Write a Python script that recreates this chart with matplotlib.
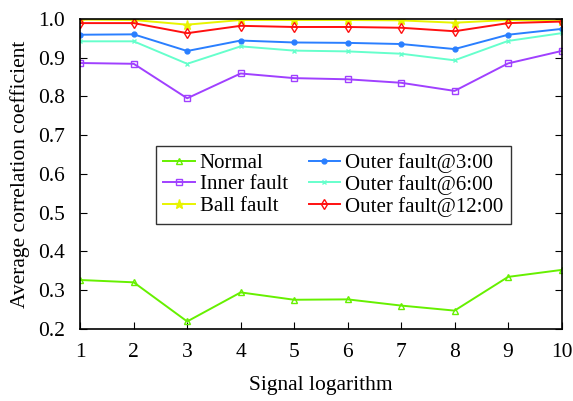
import matplotlib
matplotlib.use('Agg')
import matplotlib.pyplot as plt

signal_log = [1, 2, 3, 4, 5, 6, 7, 8, 9, 10]

normal = [0.326, 0.320, 0.219, 0.294, 0.275, 0.276, 0.260, 0.247, 0.334, 0.352]
inner_fault = [0.886, 0.884, 0.795, 0.859, 0.847, 0.844, 0.835, 0.814, 0.885, 0.917]
ball_fault = [0.998, 0.997, 0.985, 0.997, 0.997, 0.997, 0.996, 0.990, 0.997, 0.995]
outer_3 = [0.959, 0.960, 0.917, 0.944, 0.939, 0.938, 0.935, 0.922, 0.959, 0.974]
outer_6 = [0.942, 0.942, 0.884, 0.929, 0.918, 0.916, 0.910, 0.893, 0.943, 0.963]
outer_12 = [0.989, 0.989, 0.963, 0.982, 0.979, 0.979, 0.977, 0.968, 0.989, 0.993]

plt.rcParams['font.family'] = 'Liberation Serif'

fig, ax = plt.subplots(figsize=(5.73, 4.01), dpi=100)
fig.subplots_adjust(left=0.14, right=0.98, top=0.953, bottom=0.18)

ax.plot(signal_log, normal, color='#66f000', marker='^', markersize=5,
        markerfacecolor='none', lw=1.4, label='Normal')
ax.plot(signal_log, inner_fault, color='#a040ff', marker='s', markersize=4,
        markerfacecolor='none', lw=1.4, label='Inner fault')
ax.plot(signal_log, ball_fault, color='#e8f400', marker='*', markersize=6.5,
        lw=1.4, label='Ball fault')
ax.plot(signal_log, outer_3, color='#2a7fff', marker='o', markersize=3.5,
        lw=1.4, label='Outer fault@3:00')
ax.plot(signal_log, outer_6, color='#66ffcc', marker='x', markersize=3.5,
        lw=1.4, label='Outer fault@6:00')
ax.plot(signal_log, outer_12, color='#ff1010', marker='d', markersize=5,
        markerfacecolor='none', lw=1.4, label='Outer fault@12:00')

ax.set_xlim(1, 10)
ax.set_ylim(0.2, 1.0)
ax.set_xticks(signal_log)
ax.set_yticks([0.2, 0.3, 0.4, 0.5, 0.6, 0.7, 0.8, 0.9, 1.0])
ax.set_yticklabels(['0.2', '0.3', '0.4', '0.5', '0.6', '0.7', '0.8', '0.9', '1.0'])
ax.tick_params(direction='in', right=True, labelsize=15.5, length=5)
ax.tick_params(axis='x', pad=10)
ax.tick_params(axis='y', pad=11)
ax.set_xlabel('Signal logarithm', fontsize=15.5, labelpad=10)
ax.set_ylabel('Average correlation coefficient', fontsize=15.5, labelpad=6)
for s in ax.spines.values():
    s.set_linewidth(1.2)

leg = ax.legend(ncol=2, loc='center', bbox_to_anchor=(0.526, 0.4645), fontsize=15,
                frameon=True, fancybox=False, edgecolor='black', handlelength=1.5,
                labelspacing=0.1, columnspacing=1.0, borderpad=0.35, handletextpad=0.25)
leg.get_frame().set_linewidth(1.0)

fig.savefig('out.png', dpi=100)
